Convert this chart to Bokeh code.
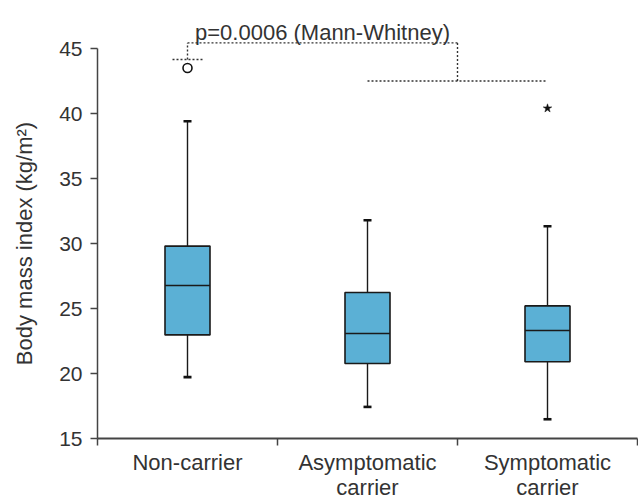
import math
from bokeh.plotting import figure
from bokeh.models import Range1d, FixedTicker, Label
from bokeh.embed import file_html
from bokeh.resources import INLINE
from bokeh.core.properties import value

# ---- data ----
categories = ["Non-carrier", "Asymptomatic\ncarrier", "Symptomatic\ncarrier"]
q1 = [22.97, 20.77, 20.90]
median = [26.77, 23.08, 23.31]
q3 = [29.80, 26.23, 25.20]
whisker_low = [19.72, 17.43, 16.48]
whisker_high = [39.40, 31.79, 31.33]
outlier_circle_cat = [0]
outlier_circle_val = [43.5]
outlier_star_cat = [2]
outlier_star_val = [40.4]
y_ticks = [15, 20, 25, 30, 35, 40, 45]
y_label = "Body mass index (kg/m²)"
p_text = "p=0.0006 (Mann-Whitney)"
bracket_left_level = 44.15
bracket_top_level = 45.43
bracket_right_level = 42.5

FONT = "Liberation Sans"
TXT = "#333333"
AX = "#444444"
FILL = "#5bb0d5"

# layout (pixels): the frame fills the whole canvas, axes are pinned inside it
W, H = 638, 497
AXIS_X_PX = 97           # page column of the y axis line
AXIS_Y_PX = 438          # page row of the x axis line
PX_PER_CAT = 180.0
PX_PER_UNIT = 13.0
YLABEL_X_PX = 23.5

xs = list(range(len(categories)))
bw = 0.25
px_x = 1 / PX_PER_CAT
px_y = 1 / PX_PER_UNIT
x_lo, x_hi = -0.5, len(categories) - 0.5
y0 = y_ticks[0]

p = figure(width=W, height=H, output_backend="svg", toolbar_location=None,
           x_range=Range1d(x_lo - AXIS_X_PX * px_x, x_lo + (W - AXIS_X_PX) * px_x),
           y_range=Range1d(y0 - (H - AXIS_Y_PX) * px_y, y0 + AXIS_Y_PX * px_y),
           min_border=0, min_border_left=0, min_border_right=0,
           min_border_top=0, min_border_bottom=0)
p.title.visible = False
p.outline_line_color = None
p.xgrid.visible = False
p.ygrid.visible = False
p.background_fill_color = "white"
p.border_fill_color = "white"

# boxes
p.vbar(x=xs, width=bw, bottom=q1, top=q3, fill_color=FILL, line_color="#1a1a1a", line_width=1.6)
p.segment(x0=[x - bw / 2 for x in xs], x1=[x + bw / 2 for x in xs], y0=median, y1=median,
          line_color="#1a1a1a", line_width=1.6)
# whiskers
p.segment(x0=xs, x1=xs, y0=q3, y1=whisker_high, line_color="#1a1a1a", line_width=1.4)
p.segment(x0=xs, x1=xs, y0=q1, y1=whisker_low, line_color="#1a1a1a", line_width=1.4)
cap = 4 * px_x
for w in (whisker_high, whisker_low):
    p.segment(x0=[x - cap for x in xs], x1=[x + cap for x in xs], y0=w, y1=w,
              line_color="#111111", line_width=2.6)
# outliers
p.scatter(x=outlier_circle_cat, y=outlier_circle_val, marker="circle", size=9,
          fill_color="white", line_color="#111111", line_width=1.6)
p.scatter(x=outlier_star_cat, y=outlier_star_val, marker="star", size=9,
          fill_color="#111111", line_color="#111111", line_width=0.5)

# comparison bracket
dash = dict(line_color="#333333", line_width=1.4, line_dash="2 2")
left_c = xs[0]
right_a, right_b = xs[1], xs[2]
right_mid = (right_a + right_b) / 2
half = 15 * px_x
p.segment(x0=[left_c - half], x1=[left_c + half], y0=[bracket_left_level], y1=[bracket_left_level], **dash)
p.segment(x0=[left_c], x1=[left_c], y0=[bracket_left_level], y1=[bracket_top_level], **dash)
p.segment(x0=[left_c], x1=[right_mid], y0=[bracket_top_level], y1=[bracket_top_level], **dash)
p.segment(x0=[right_mid], x1=[right_mid], y0=[bracket_top_level], y1=[bracket_right_level], **dash)
p.segment(x0=[right_a], x1=[right_b], y0=[bracket_right_level], y1=[bracket_right_level], **dash)
p.text(x=[(left_c + right_mid) / 2], y=[bracket_top_level + 10 * px_y], text=[p_text],
       text_align="center", text_baseline="alphabetic", text_font=value(FONT),
       text_font_size="22px", text_color=TXT)

# x axis: pinned at y=15, ticks between categories, labels at category centres
xa = p.xaxis[0]
xa.fixed_location = y0
xa.bounds = (x_lo, x_hi)
xa.ticker = FixedTicker(ticks=xs, minor_ticks=[x - 0.5 for x in xs] + [xs[-1] + 0.5])
xa.major_label_overrides = {i: c for i, c in zip(xs, categories)}
xa.major_tick_out = 0
xa.major_tick_in = 0
xa.minor_tick_out = 7
xa.minor_tick_in = 0
xa.minor_tick_line_color = AX
xa.minor_tick_line_width = 1.5
xa.axis_line_color = AX
xa.axis_line_width = 2
xa.major_label_standoff = 4
xa.major_label_text_font = FONT
xa.major_label_text_font_size = "22px"
xa.major_label_text_color = TXT
xa.major_label_text_line_height = 1.03

# y axis: pinned at the left edge of the category area
ya = p.yaxis[0]
ya.fixed_location = x_lo
ya.ticker = FixedTicker(ticks=y_ticks)
ya.bounds = (y_ticks[0], y_ticks[-1])
ya.minor_tick_out = 0
ya.minor_tick_in = 0
ya.major_tick_out = 7
ya.major_tick_in = 0
ya.major_tick_line_color = AX
ya.major_tick_line_width = 1.5
ya.axis_line_color = AX
ya.axis_line_width = 1.5
ya.major_label_standoff = 8
ya.major_label_text_font = FONT
ya.major_label_text_font_size = "21px"
ya.major_label_text_color = TXT

# y-axis title centred on the axis bounds
p.add_layout(Label(x=x_lo - (AXIS_X_PX - YLABEL_X_PX) * px_x, y=(y_ticks[0] + y_ticks[-1]) / 2,
                   text=y_label, angle=math.pi / 2, text_align="center",
                   text_baseline="middle", text_font=FONT, text_font_size="22px",
                   text_color=TXT))

open("out.html", "w").write(file_html(p, INLINE))
